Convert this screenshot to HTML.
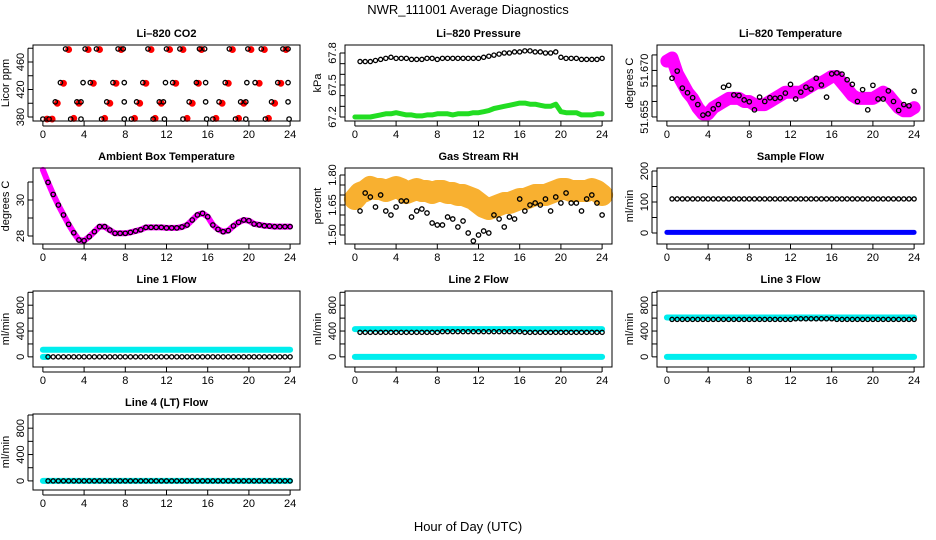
<!DOCTYPE html>
<html><head><meta charset="utf-8"><style>
body{margin:0;background:#fff}
svg{display:block;font-family:"Liberation Sans",sans-serif}
</style></head><body>
<svg id="chart" width="936" height="540" xmlns="http://www.w3.org/2000/svg">
<rect width="936" height="540" fill="#fff"/>
<text x="468" y="14" text-anchor="middle" font-size="13">NWR_111001  Average Diagnostics</text>
<text x="468" y="531" text-anchor="middle" font-size="13">Hour of Day (UTC)</text>
</svg>
<script>
const hours49=[0,0.5,1,1.5,2,2.5,3,3.5,4,4.5,5,5.5,6,6.5,7,7.5,8,8.5,9,9.5,10,10.5,11,11.5,12,12.5,13,13.5,14,14.5,15,15.5,16,16.5,17,17.5,18,18.5,19,19.5,20,20.5,21,21.5,22,22.5,23,23.5,24];
const hours48=[0.5,1,1.5,2,2.5,3,3.5,4,4.5,5,5.5,6,6.5,7,7.5,8,8.5,9,9.5,10,10.5,11,11.5,12,12.5,13,13.5,14,14.5,15,15.5,16,16.5,17,17.5,18,18.5,19,19.5,20,20.5,21,21.5,22,22.5,23,23.5,24];
const xTicks=[0,4,8,12,16,20,24];
// CO2
const co2Hours=[2.2,4.1,5.2,7.3,7.8,10.2,12.0,13.3,15.2,15.7,18.1,19.9,21.2,23.3,23.8,1.7,3.9,4.6,6.8,7.9,9.7,11.9,12.6,14.9,15.8,17.7,19.8,20.6,22.8,23.8,1.2,3.3,3.7,6.2,7.9,9.1,11.3,11.7,14.2,15.8,17.1,19.2,19.7,22.2,23.8,0,0.6,2.7,3.7,5.7,7.9,8.6,10.7,11.8,13.6,15.9,16.5,18.7,19.7,21.6,23.9];
const co2Values=[479,479,479,479,479,479,479,479,479,479,479,479,479,479,479,430,430,430,430,430,430,430,430,430,430,430,430,430,430,430,402,402,402,402,402,402,402,402,402,402,402,402,402,402,402,377,377,377,377,377,377,377,377,377,377,377,377,377,377,377,377];
const co2RedHours=[2.5,4.4,5.5,7.6,10.5,12.3,13.6,15.4,18.4,20.2,21.5,23.6,2.0,4.9,7.1,10.0,12.9,15.1,18.0,21.0,23.1,1.4,3.5,6.5,9.4,11.5,14.5,17.4,19.5,22.5,0.4,0.9,3.0,6.0,8.9,10.9,14.0,16.8,19.0,21.9];
const co2RedValues=[478,478,478,478,478,478,478,478,478,478,478,478,429,429,429,429,429,429,429,429,429,400,400,400,400,400,400,400,400,400,377,377,378,378,378,378,378,378,378,378];
const co2Ticks=[380,400,420,440,460,480];const co2Labels=["380","","420","","460",""];
// Pressure
const presBlack=[67.72,67.72,67.72,67.73,67.74,67.75,67.76,67.75,67.75,67.75,67.74,67.74,67.74,67.75,67.75,67.74,67.75,67.75,67.75,67.75,67.75,67.75,67.75,67.75,67.76,67.77,67.78,67.79,67.80,67.80,67.81,67.81,67.82,67.82,67.81,67.81,67.80,67.80,67.81,67.76,67.75,67.75,67.75,67.74,67.74,67.74,67.74,67.75];
const presGreen=[67.20,67.20,67.20,67.20,67.21,67.22,67.23,67.23,67.24,67.23,67.22,67.22,67.21,67.21,67.22,67.22,67.23,67.23,67.23,67.22,67.23,67.23,67.23,67.24,67.24,67.25,67.26,67.28,67.29,67.30,67.31,67.32,67.33,67.33,67.32,67.32,67.31,67.30,67.30,67.32,67.25,67.24,67.24,67.24,67.22,67.22,67.22,67.23,67.23];
const presTicks=[67.2,67.3,67.4,67.5,67.6,67.7,67.8];const presLabels=["67.2","","","67.5","","","67.8"];
// Li-820 temperature
const tempMagenta=[51.673,51.674,51.669,51.666,51.663,51.661,51.658,51.656,51.656,51.658,51.659,51.660,51.661,51.661,51.661,51.660,51.660,51.659,51.659,51.659,51.660,51.661,51.662,51.663,51.663,51.663,51.663,51.664,51.665,51.666,51.666,51.667,51.668,51.668,51.666,51.664,51.662,51.661,51.661,51.661,51.661,51.662,51.663,51.662,51.660,51.658,51.657,51.657,51.658];
const tempBlack=[51.6675,51.6698,51.6643,51.6628,51.6612,51.6590,51.6556,51.6560,51.6576,51.6590,51.6646,51.6652,51.6621,51.6619,51.6605,51.6599,51.6573,51.6614,51.6600,51.6612,51.6610,51.6612,51.6627,51.6655,51.6608,51.6630,51.6646,51.6640,51.6675,51.6653,51.6614,51.6689,51.6692,51.6688,51.6670,51.6655,51.6600,51.6638,51.6573,51.6652,51.6608,51.6608,51.6634,51.6600,51.6571,51.6590,51.6586,51.6633];
const tempTicks=[51.655,51.660,51.665,51.670,51.675];const tempLabels=["51.655","","","51.670",""];
// Ambient box
const ambMagenta=[31.67,30.98,30.31,29.72,29.17,28.65,28.18,27.78,27.74,27.96,28.24,28.52,28.52,28.33,28.15,28.15,28.15,28.2,28.28,28.35,28.48,28.48,28.48,28.48,28.45,28.45,28.45,28.5,28.61,28.89,29.17,29.26,29.07,28.61,28.37,28.24,28.3,28.56,28.76,28.89,28.85,28.67,28.62,28.57,28.55,28.52,28.52,28.52,28.52];
const ambBlack=[30.98,30.31,29.72,29.17,28.65,28.18,27.78,27.74,27.96,28.24,28.52,28.52,28.33,28.15,28.15,28.15,28.2,28.28,28.35,28.48,28.48,28.48,28.48,28.45,28.45,28.45,28.5,28.61,28.89,29.17,29.26,29.07,28.61,28.37,28.24,28.3,28.56,28.76,28.89,28.85,28.67,28.62,28.57,28.55,28.52,28.52,28.52,28.52];
const ambTicks=[28,29,30,31];const ambLabels=["28","","30",""];
// Gas stream RH
const rhOrange=[1.68,1.71,1.72,1.74,1.73,1.73,1.72,1.73,1.74,1.73,1.71,1.72,1.73,1.72,1.72,1.71,1.72,1.72,1.71,1.71,1.70,1.70,1.69,1.68,1.66,1.64,1.63,1.64,1.65,1.66,1.66,1.67,1.68,1.68,1.69,1.70,1.70,1.70,1.71,1.72,1.73,1.73,1.72,1.72,1.72,1.72,1.73,1.72,1.70];
const rhBlack=[1.62,1.71,1.69,1.64,1.70,1.62,1.60,1.64,1.67,1.67,1.59,1.62,1.63,1.61,1.56,1.55,1.55,1.59,1.58,1.54,1.57,1.51,1.47,1.50,1.52,1.51,1.60,1.58,1.54,1.59,1.58,1.68,1.62,1.65,1.66,1.65,1.68,1.62,1.69,1.66,1.71,1.66,1.66,1.62,1.68,1.70,1.66,1.60];
const rhTicks=[1.50,1.55,1.60,1.65,1.70,1.75,1.80];const rhLabels=["1.50","","","1.65","","","1.80"];
// Sample flow
const sampleBlack=[110,110,110,110,110,110,110,110,110,110,110,110,110,110,110,110,110,110,110,110,110,110,110,110,110,110,110,110,110,110,110,110,110,110,110,110,110,110,110,110,110,110,110,110,110,110,110,110];
const sampleBlue=[2,2,2,2,2,2,2,2,2,2,2,2,2,2,2,2,2,2,2,2,2,2,2,2,2,2,2,2,2,2,2,2,2,2,2,2,2,2,2,2,2,2,2,2,2,2,2,2,2];
const sampleTicks=[0,50,100,150,200];const sampleLabels=["0","","100","","200"];
// Line flows
const line1Cyan=[110,110,110,110,110,110,110,110,110,110,110,110,110,110,110,110,110,110,110,110,110,110,110,110,110,110,110,110,110,110,110,110,110,110,110,110,110,110,110,110,110,110,110,110,110,110,110,110,110];
const line1Black=[0,0,0,0,0,0,0,0,0,0,0,0,0,0,0,0,0,0,0,0,0,0,0,0,0,0,0,0,0,0,0,0,0,0,0,0,0,0,0,0,0,0,0,0,0,0,0,0];
const line2CyanHigh=[430,430,430,430,430,430,430,430,430,430,430,430,430,430,430,430,430,430,430,430,430,430,430,430,430,430,430,430,430,430,430,430,430,430,430,430,430,430,430,430,430,430,430,430,430,430,430,430,430];
const line2CyanLow=[0,0,0,0,0,0,0,0,0,0,0,0,0,0,0,0,0,0,0,0,0,0,0,0,0,0,0,0,0,0,0,0,0,0,0,0,0,0,0,0,0,0,0,0,0,0,0,0,0];
const line2Black=[380,380,380,380,380,380,380,380,380,380,380,380,380,380,380,380,390,390,390,390,390,390,390,390,390,390,390,390,390,390,390,390,380,380,380,380,380,380,380,380,380,380,380,380,380,380,380,380];
const line3CyanHigh=[610,610,610,610,610,610,610,610,610,610,610,610,610,610,610,610,610,610,610,610,610,610,610,610,610,610,610,610,610,610,610,610,610,610,610,610,610,610,610,610,610,610,610,610,610,610,610,610,610];
const line3CyanLow=[0,0,0,0,0,0,0,0,0,0,0,0,0,0,0,0,0,0,0,0,0,0,0,0,0,0,0,0,0,0,0,0,0,0,0,0,0,0,0,0,0,0,0,0,0,0,0,0,0];
const line3Black=[580,580,580,580,580,580,580,580,580,580,580,580,580,580,580,580,580,580,580,580,580,580,580,580,590,590,590,590,590,590,590,590,580,580,580,580,580,580,580,580,580,580,580,580,580,580,580,580];
const line4Cyan=[0,0,0,0,0,0,0,0,0,0,0,0,0,0,0,0,0,0,0,0,0,0,0,0,0,0,0,0,0,0,0,0,0,0,0,0,0,0,0,0,0,0,0,0,0,0,0,0,0];
const line4Black=[0,0,0,0,0,0,0,0,0,0,0,0,0,0,0,0,0,0,0,0,0,0,0,0,0,0,0,0,0,0,0,0,0,0,0,0,0,0,0,0,0,0,0,0,0,0,0,0];
const flowTicks=[0,200,400,600,800,1000];const flowLabels=["0","","400","","800",""];

const NS="http://www.w3.org/2000/svg";
const svg=document.getElementById('chart');
function mk(tag,attrs,parent,name){
  const e=document.createElementNS(NS,tag);
  for(const k in attrs)e.setAttribute(k,attrs[k]);
  
  
  (parent||svg).appendChild(e);return e;
}
const rowTop=[45,168,291,414];
function panel(col,row,title,ylab,yBot,yTop,ticks,labels,name){
  const g=mk('g',{},svg,name+'-panel');
  const L=33+312*col,R=300+312*col,T=rowTop[row],B=T+76;
  const x0=L+(R-L)*0.04/1.08, x1=R-(R-L)*0.04/1.08;
  const sx=h=>x0+(x1-x0)*h/24;
  const sy=v=>B-(v-yBot)/(yTop-yBot)*(B-T);
  const plot=mk('g',{},g,name+'-marks');
  mk('rect',{x:L,y:T,width:R-L,height:B-T,fill:'none',stroke:'#000','stroke-width':1},g,name+'-frame');
  mk('text',{x:(L+R)/2,y:T-8,'text-anchor':'middle','font-size':11,'font-weight':'bold'},g,name+'-title').textContent=title;
  const yl=mk('text',{x:L-24,y:(T+B)/2,'text-anchor':'middle','font-size':11,transform:`rotate(-90 ${L-24} ${(T+B)/2})`},g,name+'-y-axis-title');yl.textContent=ylab;
  xTicks.forEach(h=>{
    mk('line',{x1:sx(h),x2:sx(h),y1:B,y2:B+5,stroke:'#000'},g,name+'-x-tick');
    mk('text',{x:sx(h),y:B+17,'text-anchor':'middle','font-size':11},g,name+'-x-tick-label').textContent=h;
  });
  mk('line',{x1:sx(0),x2:sx(24),y1:B+5,y2:B+5,stroke:'#000'},g,name+'-x-axis');
  mk('line',{x1:L-5,x2:L-5,y1:sy(ticks[0]),y2:sy(ticks[ticks.length-1]),stroke:'#000'},g,name+'-y-axis');
  ticks.forEach((v,i)=>{
    mk('line',{x1:L-5,x2:L,y1:sy(v),y2:sy(v),stroke:'#000'},g,name+'-y-tick');
    if(labels[i]!==""&&labels[i]!==undefined){
      const t=mk('text',{x:L-9,y:sy(v),'text-anchor':'middle','font-size':11,transform:`rotate(-90 ${L-9} ${sy(v)})`},g,name+'-y-tick-label');t.textContent=labels[i];
    }
  });
  return {sx,sy,plot,L,R,T,B};
}
function band(p,xs,ys,color,w,name){
  const d=xs.map((h,i)=>(i?'L':'M')+p.sx(h).toFixed(1)+' '+p.sy(ys[i]).toFixed(1)).join(' ');
  mk('path',{d,fill:'none',stroke:color,'stroke-width':w,'stroke-linecap':'round','stroke-linejoin':'round'},p.plot,name);
}
function dots(p,xs,ys,stroke,fill,r,name){
  xs.forEach((h,i)=>{mk('circle',{cx:p.sx(h),cy:p.sy(ys[i]),r,fill,stroke,'stroke-width':1.3},p.plot,name);});
}
// Row 1
let p=panel(0,0,'Li\u2013820 CO2','Licor ppm',374.2,484.7,co2Ticks,co2Labels,'co2');
dots(p,co2RedHours,co2RedValues,'#f00','#f00',2.8,'co2-red-point');
dots(p,co2Hours,co2Values,'#000','none',2.2,'co2-black-point');
p=panel(1,0,'Li\u2013820 Pressure','kPa',67.1625,67.875,presTicks,presLabels,'pressure');
band(p,hours49,presGreen,'#22dd22',5,'pressure-green-band');
dots(p,hours48,presBlack,'#000','none',2.1,'pressure-black-point');
p=panel(2,0,'Li\u2013820 Temperature','degrees C',51.6537,51.6782,tempTicks,tempLabels,'temperature');
band(p,hours49,tempMagenta,'#ff00ff',13,'temperature-magenta-band');
dots(p,hours48,tempBlack,'#000','none',2.2,'temperature-black-point');
// Row 2
p=panel(0,1,'Ambient Box Temperature','degrees C',27.556,31.778,ambTicks,ambLabels,'ambient');
band(p,hours49,ambMagenta,'#ff00ff',6,'ambient-magenta-band');
dots(p,hours48,ambBlack,'#000','none',2.2,'ambient-black-point');
p=panel(1,1,'Gas Stream RH','percent',1.455,1.835,rhTicks,rhLabels,'rh');
band(p,hours49,rhOrange,'#f8b030',22,'rh-orange-band');
dots(p,hours48,rhBlack,'#000','none',2.2,'rh-black-point');
p=panel(2,1,'Sample Flow','ml/min',-35.5,209.7,sampleTicks,sampleLabels,'sample-flow');
band(p,hours49,sampleBlue,'#0000ff',5,'sample-flow-blue-band');
dots(p,hours48,sampleBlack,'#000','none',2.1,'sample-flow-black-point');
// Row 3
p=panel(0,2,'Line 1 Flow','ml/min',-157,1020,flowTicks,flowLabels,'line1-flow');
band(p,hours49,line1Cyan,'#00eeee',6,'line1-cyan-band');
band(p,[0,0.5],[0,0],'#00eeee',6,'line1-cyan-start');
dots(p,hours48,line1Black,'#000','none',2.1,'line1-black-point');
p=panel(1,2,'Line 2 Flow','ml/min',-157,1020,flowTicks,flowLabels,'line2-flow');
band(p,hours49,line2CyanHigh,'#00eeee',6,'line2-cyan-high-band');
band(p,hours49,line2CyanLow,'#00eeee',6,'line2-cyan-low-band');
dots(p,hours48,line2Black,'#000','none',2.1,'line2-black-point');
p=panel(2,2,'Line 3 Flow','ml/min',-157,1020,flowTicks,flowLabels,'line3-flow');
band(p,hours49,line3CyanHigh,'#00eeee',6,'line3-cyan-high-band');
band(p,hours49,line3CyanLow,'#00eeee',6,'line3-cyan-low-band');
dots(p,hours48,line3Black,'#000','none',2.1,'line3-black-point');
// Row 4
p=panel(0,3,'Line 4 (LT) Flow','ml/min',-138,1015,flowTicks,flowLabels,'line4-flow');
band(p,hours49,line4Cyan,'#00eeee',6,'line4-cyan-band');
dots(p,hours48,line4Black,'#000','none',2.1,'line4-black-point');
</script>
</body></html>
